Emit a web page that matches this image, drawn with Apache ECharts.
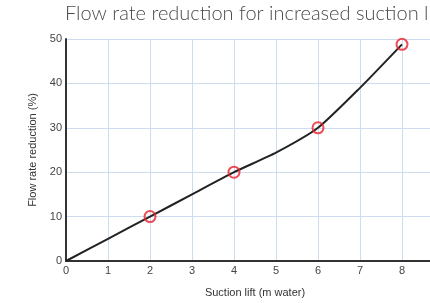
<!DOCTYPE html>
<html>
<head>
<meta charset="utf-8">
<script src="https://cdn.jsdelivr.net/npm/echarts@6/dist/echarts.min.js"></script>
<style>
  html, body { margin: 0; padding: 0; background: #fff; }
  #chart { width: 430px; height: 303px; }
</style>
</head>
<body>
<div id="chart"></div>
<script>
// suction lift (m water) and flow rate reduction (%)
var liftValues = [0, 1, 2, 3, 4, 5, 6, 7, 8];
var reductionValues = [0, 5, 10, 15, 20, 24.4, 30, 39, 48.8];
// points marked with red circles
var markerLift = [2, 4, 6, 8];
var markerReduction = [10, 20, 30, 48.8];

var lineData = liftValues.map(function (x, i) { return [x, reductionValues[i]]; });
var markerData = markerLift.map(function (x, i) { return [x, markerReduction[i]]; });

var chart = echarts.init(document.getElementById('chart'));
chart.setOption({
  animation: false,
  backgroundColor: '#fff',
  title: {
    text: 'Flow rate reduction for increased suction lift',
    left: 65,
    top: 4,
    padding: 0,
    textStyle: { fontFamily: 'Lato', fontWeight: 300, fontSize: 20, color: '#4a4a4a' }
  },
  grid: { left: 66, top: 39, right: -14, bottom: 42, outerBoundsMode: 'none', containLabel: false },
  xAxis: {
    type: 'value',
    min: 0, max: 9, interval: 1,
    name: 'Suction lift (m water)',
    nameLocation: 'middle',
    nameGap: 26,
    nameTextStyle: { fontFamily: 'Liberation Sans', fontSize: 11, color: '#333' },
    axisLine: { lineStyle: { color: '#333', width: 2 } },
    axisTick: { show: false },
    axisLabel: { fontFamily: 'Liberation Sans', fontSize: 11, color: '#444', margin: 4 },
    splitLine: { show: true, lineStyle: { color: '#cddcf0', width: 1 } }
  },
  yAxis: {
    type: 'value',
    min: 0, max: 50, interval: 10,
    name: 'Flow rate reduction (%)',
    nameLocation: 'middle',
    nameGap: 27,
    nameTextStyle: { fontFamily: 'Liberation Sans', fontSize: 11, color: '#333' },
    axisLine: { show: true, lineStyle: { color: '#333', width: 2 } },
    axisTick: { show: false },
    axisLabel: { fontFamily: 'Liberation Sans', fontSize: 11, color: '#444', margin: 4 },
    splitLine: { show: true, lineStyle: { color: '#cddcf0', width: 1 } }
  },
  series: [
    {
      type: 'line',
      data: lineData,
      showSymbol: false,
      smooth: 0.2,
      lineStyle: { color: '#222', width: 2 },
      z: 3
    },
    {
      type: 'scatter',
      data: markerData,
      symbol: 'circle',
      symbolSize: 11,
      itemStyle: { color: 'rgba(255,255,255,0)', borderColor: '#e8202a', borderWidth: 2 },
      z: 4
    }
  ]
});
</script>
</body>
</html>
